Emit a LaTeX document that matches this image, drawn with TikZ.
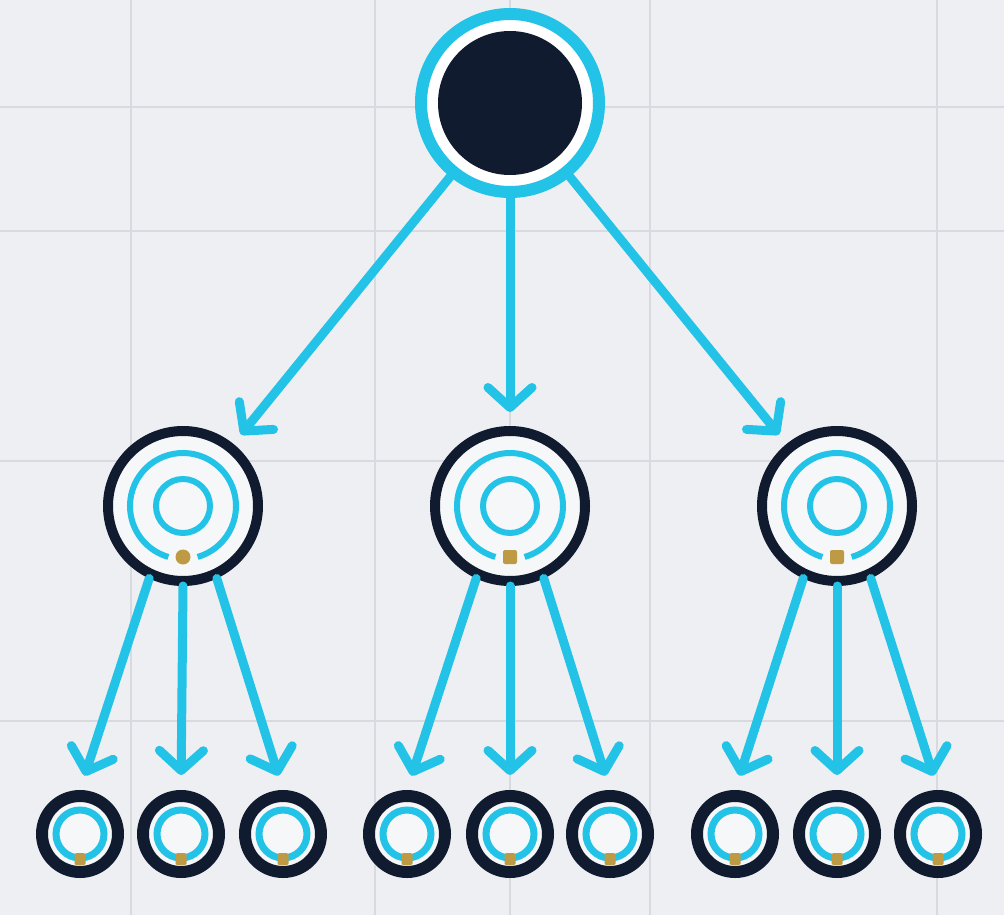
\documentclass[tikz,border=0pt]{standalone}
\usetikzlibrary{arrows.meta,calc}
\definecolor{bg}{HTML}{EEEFF2}
\definecolor{gridc}{HTML}{D9DADF}
\definecolor{cy}{HTML}{22C3E6}
\definecolor{navy}{HTML}{111B2F}
\definecolor{gold}{HTML}{BF9A45}
\definecolor{inner}{HTML}{F6F7F9}
\tikzset{
  topnode/.style={circle, minimum size=178pt, inner sep=0pt, draw=cy, line width=12pt, fill=white},
  midnode/.style={circle, minimum size=150pt, inner sep=0pt, draw=navy, line width=10pt, fill=inner},
  leafnode/.style={circle, minimum size=76pt, inner sep=0pt, draw=navy, line width=12pt, fill=inner},
  conn/.style={draw=cy, line width=9pt, line cap=round,
    -{Straight Barb[length=20pt,width=44pt,round]}},
  gridline/.style={draw=gridc, line width=2pt},
  ring/.style={draw=cy, line width=6pt},
  leafring/.style={draw=cy, line width=7pt},
}
\begin{document}
\begin{tikzpicture}[x=1pt,y=-1pt]
\useasboundingbox (0,0) rectangle (1004,915);
\fill[bg] (0,0) rectangle (1004,915);
% grid
\foreach \gx in {131,375,510,650,937} \draw[gridline] (\gx,0) -- (\gx,915);
\foreach \gy in {107,231,461,721} \draw[gridline] (0,\gy) -- (1004,\gy);

% nodes
\node[topnode] (top) at (510,103) {};
\node[midnode] (m1) at (183,506) {};
\node[midnode] (m2) at (510,506) {};
\node[midnode] (m3) at (837,506) {};
\foreach \i/\x in {1/80,2/181,3/283,4/407,5/510,6/610,7/735,8/837,9/938}
  \node[leafnode] (b\i) at (\x,834) {};

% top decoration
\fill[navy] (top.center) circle (72pt);

% mid decorations
\foreach \m in {m1,m2,m3}{
  \draw[ring] (\m.center) circle (27pt);
  \draw[ring] (\m.center) ++(-74:53pt) arc[start angle=-74, end angle=254, radius=53pt];
}
\fill[gold] ($(m1.center)+(0,51)$) circle (7.5pt);
\fill[gold, rounded corners=2pt] ($(m2.center)+(-7,44)$) rectangle ++(14,14);
\fill[gold, rounded corners=2pt] ($(m3.center)+(-7,44)$) rectangle ++(14,14);

% leaf decorations
\foreach \i in {1,...,9}{
  \draw[leafring] (b\i.center) circle (24pt);
  \fill[gold, rounded corners=1.5pt] ($(b\i.center)+(-5.5,19)$) rectangle ++(11,12);
}

% connectors top -> mid
\draw[conn, shorten >=12pt] (top) -- (m1);
\draw[conn, shorten >=14pt] (top) -- (m2);
\draw[conn, shorten >=12pt] (top) -- (m3);

% connectors mid -> leaves
\draw[conn, shorten >=15pt] (m1.245) -- (b1.north);
\draw[conn, shorten >=15pt] (m1.south) -- (b2.north);
\draw[conn, shorten >=15pt] (m1.295) -- (b3.north);
\draw[conn, shorten >=15pt] (m2.245) -- (b4.north);
\draw[conn, shorten >=15pt] (m2.south) -- (b5.north);
\draw[conn, shorten >=15pt] (m2.295) -- (b6.north);
\draw[conn, shorten >=15pt] (m3.245) -- (b7.north);
\draw[conn, shorten >=15pt] (m3.south) -- (b8.north);
\draw[conn, shorten >=15pt] (m3.295) -- (b9.north);
\end{tikzpicture}
\end{document}
